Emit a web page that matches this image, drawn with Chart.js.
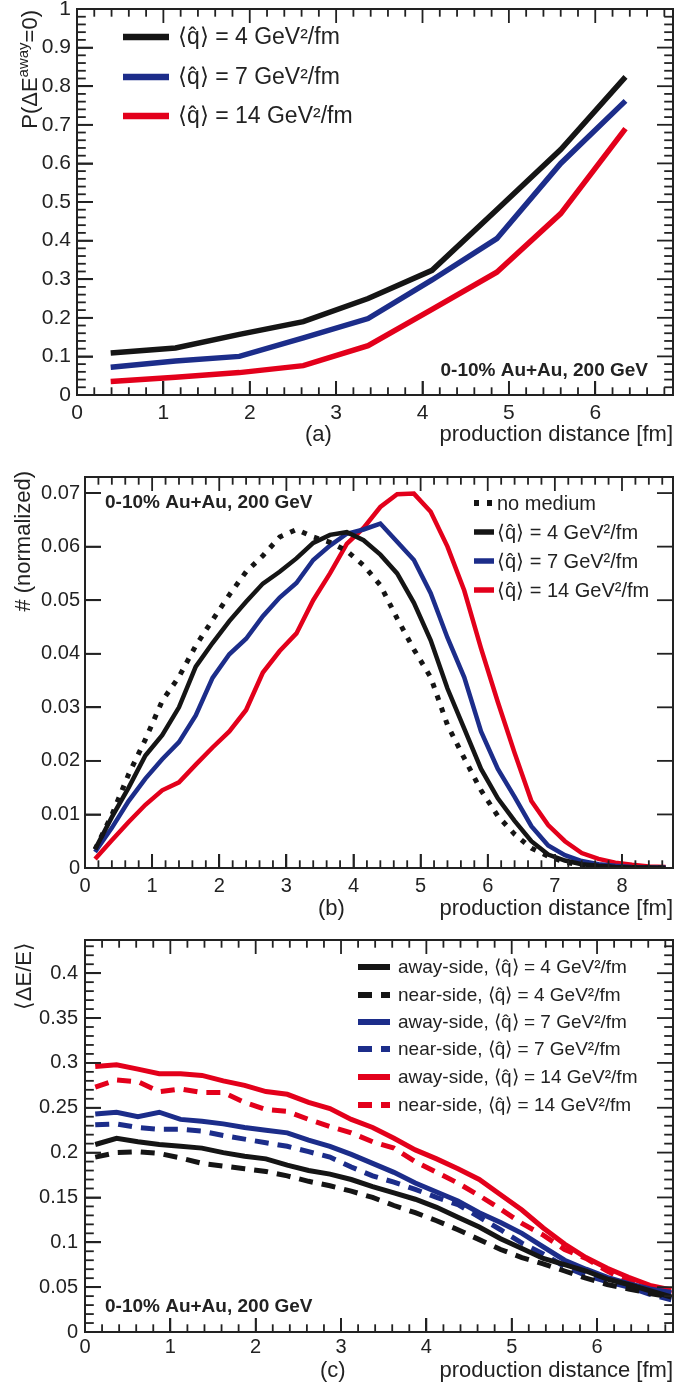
<!DOCTYPE html>
<html>
<head>
<meta charset="utf-8">
<script src="https://cdn.jsdelivr.net/npm/chart.js@4.4.0/dist/chart.umd.min.js"></script>
<style>
  body { margin: 0; background: #fff; width: 676px; height: 1389px; position: relative; overflow: hidden; }
  canvas { position: absolute; left: 0; }
</style>
</head>
<body>
<canvas id="chartA" width="676" height="463" style="top:0px"></canvas>
<canvas id="chartB" width="676" height="463" style="top:463px"></canvas>
<canvas id="chartC" width="676" height="463" style="top:926px"></canvas>
<script>
// ---- data ----
// (a) probability of no energy loss vs production distance
const probX = [0.39, 1.14, 1.88, 2.62, 3.37, 4.11, 4.86, 5.6, 6.35];
const probQ4 = [0.109, 0.122, 0.157, 0.19, 0.25, 0.323, 0.48, 0.636, 0.824];
const probQ7 = [0.072, 0.088, 0.1, 0.148, 0.198, 0.298, 0.405, 0.6, 0.762];
const probQ14 = [0.035, 0.046, 0.058, 0.076, 0.128, 0.222, 0.318, 0.47, 0.69];

// (b) production distance distributions
const distX = [0.15, 0.4, 0.65, 0.9, 1.15, 1.4, 1.65, 1.9, 2.15, 2.4, 2.65, 2.9, 3.15, 3.4, 3.65, 3.9, 4.15, 4.4,
  4.65, 4.9, 5.15, 5.4, 5.65, 5.9, 6.15, 6.4, 6.65, 6.9, 7.15, 7.4, 7.65, 7.9, 8.15, 8.4, 8.65];
const distNoMedium = [0.0035, 0.0099, 0.0175, 0.024, 0.0312, 0.0357, 0.0415, 0.0463, 0.051, 0.0553, 0.0583, 0.0618,
  0.0632, 0.0618, 0.0608, 0.0592, 0.0565, 0.0528, 0.0466, 0.0408, 0.0356, 0.0267, 0.0205, 0.0145, 0.0097, 0.0063,
  0.0037, 0.0022, 0.0011, 0.0005, 0.0002, 0.0001, 0.0001, 0, 0];
const distQ4 = [0.0035, 0.0095, 0.015, 0.021, 0.0248, 0.030, 0.0376, 0.042, 0.0461, 0.0497, 0.0531, 0.0553, 0.0578,
  0.0607, 0.0622, 0.0627, 0.0612, 0.0585, 0.055, 0.0495, 0.0425, 0.0335, 0.026, 0.0185, 0.013, 0.0088, 0.005, 0.0025,
  0.0014, 0.0007, 0.0004, 0.0002, 0.0001, 0.0001, 0];
const distQ7 = [0.003, 0.0075, 0.0125, 0.0167, 0.0203, 0.0235, 0.0285, 0.0355, 0.0399, 0.0428, 0.047, 0.0505, 0.0532,
  0.0575, 0.0602, 0.0624, 0.0632, 0.0643, 0.0609, 0.0575, 0.0513, 0.043, 0.0356, 0.0255, 0.0185, 0.0133, 0.0078,
  0.0042, 0.0024, 0.0013, 0.0007, 0.0004, 0.0002, 0.0001, 0.0001];
const distQ14 = [0.0017, 0.0052, 0.0086, 0.0118, 0.0145, 0.016, 0.0193, 0.0225, 0.0255, 0.0295, 0.0365, 0.0405,
  0.0438, 0.05, 0.055, 0.0605, 0.0635, 0.0674, 0.0698, 0.0699, 0.0665, 0.060, 0.0518, 0.041, 0.031, 0.0215, 0.0125,
  0.008, 0.005, 0.0028, 0.0017, 0.001, 0.0006, 0.0003, 0.0002];

// (c) mean fractional energy loss
const lossX = [0.12, 0.37, 0.62, 0.87, 1.12, 1.37, 1.62, 1.87, 2.12, 2.37, 2.62, 2.87, 3.12, 3.37, 3.62, 3.87,
  4.12, 4.37, 4.62, 4.87, 5.12, 5.37, 5.62, 5.87, 6.12, 6.37, 6.62, 6.87];
const awayQ4 = [0.209, 0.216, 0.212, 0.209, 0.207, 0.205, 0.2, 0.196, 0.193, 0.186, 0.18, 0.176, 0.17, 0.162, 0.155,
  0.148, 0.139, 0.128, 0.117, 0.104, 0.093, 0.082, 0.075, 0.068, 0.059, 0.053, 0.046, 0.039];
const nearQ4 = [0.195, 0.2, 0.201, 0.199, 0.194, 0.188, 0.185, 0.182, 0.179, 0.174, 0.168, 0.163, 0.157, 0.15, 0.141,
  0.133, 0.124, 0.114, 0.103, 0.092, 0.083, 0.076, 0.068, 0.06, 0.053, 0.048, 0.043, 0.039];
const awayQ7 = [0.243, 0.245, 0.24, 0.245, 0.237, 0.235, 0.232, 0.228, 0.225, 0.222, 0.214, 0.207, 0.198, 0.188, 0.178,
  0.166, 0.156, 0.146, 0.133, 0.122, 0.11, 0.095, 0.08, 0.07, 0.061, 0.054, 0.048, 0.044];
const nearQ7 = [0.231, 0.232, 0.228, 0.226, 0.226, 0.224, 0.219, 0.215, 0.211, 0.207, 0.201, 0.195, 0.184, 0.174, 0.167,
  0.159, 0.15, 0.142, 0.128, 0.114, 0.099, 0.087, 0.073, 0.063, 0.056, 0.05, 0.042, 0.036];
const awayQ14 = [0.296, 0.298, 0.293, 0.288, 0.288, 0.286, 0.28, 0.275, 0.268, 0.265, 0.256, 0.249, 0.237, 0.228, 0.216,
  0.203, 0.193, 0.182, 0.17, 0.153, 0.136, 0.116, 0.098, 0.083, 0.071, 0.061, 0.052, 0.047];
const nearQ14 = [0.273, 0.281, 0.279, 0.268, 0.271, 0.267, 0.267, 0.256, 0.248, 0.246, 0.237, 0.229, 0.222, 0.212, 0.205,
  0.19, 0.178, 0.166, 0.152, 0.137, 0.121, 0.108, 0.092, 0.082, 0.068, 0.056, 0.048, 0.043];

const BLACK = "#151515";
const BLUE = "#1c2d8a";
const RED = "#e3001b";
const INK = "#222";
const FONT = '"Liberation Sans", Arial, sans-serif';

function pts(xs, ys) {
  return xs.map((x, i) => ({ x: x, y: ys[i] }));
}

function fmt(v) {
  return String(+v.toFixed(3));
}

// ROOT-like frame; ticks on the inside of all four sides
function drawFrame(chart, o) {
  const ctx = chart.ctx, a = chart.chartArea;
  const sx = chart.scales.x, sy = chart.scales.y;
  ctx.save();
  ctx.setLineDash([]);
  ctx.strokeStyle = INK;
  ctx.fillStyle = INK;
  ctx.lineWidth = 2;
  ctx.strokeRect(a.left, a.top, a.right - a.left, a.bottom - a.top);
  try {
    const nx = Math.floor(o.xMax / o.xMinor + 1e-6);
    for (let i = 1; i <= nx; i++) {
      const v = i * o.xMinor;
      if (v > o.xMax - 1e-6) break;
      const px = sx.getPixelForValue(v);
      const r = v / o.xMajor;
      const len = Math.abs(r - Math.round(r)) < 1e-6 ? o.xLen : o.xLen * 0.55;
      ctx.fillRect(px - 0.9, a.bottom - len, 1.8, len);
      ctx.fillRect(px - 0.9, a.top, 1.8, len);
    }
    const ny = Math.floor(o.yMax / o.yMinor + 1e-6);
    for (let i = 1; i <= ny; i++) {
      const v = i * o.yMinor;
      if (v > o.yMax - 1e-6) break;
      const py = sy.getPixelForValue(v);
      const r = v / o.yMajor;
      const len = Math.abs(r - Math.round(r)) < 1e-6 ? o.yLen : o.yLen * 0.55;
      ctx.fillRect(a.left, py - 0.9, len, 1.8);
      ctx.fillRect(a.right - len, py - 0.9, len, 1.8);
    }
  } catch (e) {
    console.error(e);
  }
  ctx.restore();
}

function text(ctx, s, x, y, size, align, bold) {
  ctx.font = (bold ? "bold " : "") + size + "px " + FONT;
  ctx.textAlign = align || "left";
  ctx.fillStyle = INK;
  ctx.fillText(s, x, y);
}

// rotated y title: parts are [text, size, shift], ending at yTop
function yTitle(ctx, parts, x, yTop) {
  ctx.save();
  ctx.translate(x, yTop);
  ctx.rotate(-Math.PI / 2);
  let w = 0;
  parts.forEach(p => { ctx.font = p[1] + "px " + FONT; w += ctx.measureText(p[0]).width; });
  let u = -w;
  ctx.fillStyle = INK;
  ctx.textAlign = "left";
  ctx.textBaseline = "alphabetic";
  parts.forEach(p => {
    ctx.font = p[1] + "px " + FONT;
    ctx.fillText(p[0], u, p[2] || 0);
    u += ctx.measureText(p[0]).width;
  });
  ctx.restore();
}

function legendBox(chart, rows, x0, x1, tx, size) {
  const ctx = chart.ctx;
  ctx.save();
  rows.forEach(r => {
    const ds = chart.data.datasets[r[0]];
    ctx.strokeStyle = ds.borderColor;
    ctx.lineWidth = ds.borderWidth + 1;
    ctx.setLineDash(ds.borderDash || []);
    ctx.lineCap = "butt";
    ctx.beginPath();
    ctx.moveTo(x0, r[1]);
    ctx.lineTo(x1, r[1]);
    ctx.stroke();
    ctx.setLineDash([]);
    ctx.textBaseline = "middle";
    text(ctx, ds.label, tx, r[1] + 1, size);
  });
  ctx.restore();
}

function series(label, xs, ys, color, width, dash) {
  return {
    label: label,
    data: pts(xs, ys),
    borderColor: color,
    backgroundColor: color,
    borderWidth: width,
    borderDash: dash || [],
    borderCapStyle: "butt",
    pointRadius: 0,
    tension: 0,
    fill: false
  };
}

// major ticks also come from Chart.js itself: inward tick marks (negative tickLength)
function makeScales(box, xMax, yMax, yStep, fontSize, xPad, yPad) {
  return {
    x: {
      type: "linear", min: 0, max: xMax,
      grid: { display: true, drawOnChartArea: false, drawTicks: true, tickLength: -14, color: INK, lineWidth: 1.8 },
      border: { display: false },
      ticks: {
        stepSize: 1, includeBounds: false, padding: xPad + 14, maxRotation: 0,
        color: INK, font: { family: FONT, size: fontSize }, callback: fmt
      },
      afterFit: s => { s.height = box.h - box.bottom; s.paddingLeft = 0; s.paddingRight = 0; }
    },
    y: {
      type: "linear", min: 0, max: yMax,
      grid: { display: true, drawOnChartArea: false, drawTicks: true, tickLength: -16, color: INK, lineWidth: 1.8 },
      border: { display: false },
      ticks: {
        stepSize: yStep, includeBounds: false, padding: yPad + 16,
        color: INK, font: { family: FONT, size: fontSize }, callback: fmt
      },
      afterFit: s => { s.width = box.left; s.paddingTop = 0; s.paddingBottom = 0; }
    }
  };
}

function baseOptions(box, sc) {
  return {
    responsive: false,
    animation: false,
    layout: { padding: { top: box.top, right: box.w - box.right, left: 0, bottom: 0 } },
    scales: sc,
    plugins: { legend: { display: false }, tooltip: { enabled: false } }
  };
}

const Q4 = "\u27E8q\u0302\u27E9 = 4 GeV\u00B2/fm";
const Q7 = "\u27E8q\u0302\u27E9 = 7 GeV\u00B2/fm";
const Q14 = "\u27E8q\u0302\u27E9 = 14 GeV\u00B2/fm";

// ---- panel (a) ----
const boxA = { w: 676, h: 463, left: 77, right: 673, top: 9, bottom: 395 };
new Chart(document.getElementById("chartA"), {
  type: "line",
  data: {
    datasets: [
      series(Q4, probX, probQ4, BLACK, 5.5),
      series(Q7, probX, probQ7, BLUE, 5.5),
      series(Q14, probX, probQ14, RED, 5.5)
    ]
  },
  options: baseOptions(boxA, makeScales(boxA, 6.9, 1.0, 0.1, 21, 6, 6)),
  plugins: [{
    id: "textA",
    afterDraw(chart) {
      const ctx = chart.ctx;
      legendBox(chart, [[0, 37], [1, 77], [2, 116]], 123, 169, 178, 23);
      ctx.textBaseline = "alphabetic";
      text(ctx, "0-10% Au+Au, 200 GeV", 648, 376, 19, "right", true);
      text(ctx, "production distance [fm]", 673, 441, 22, "right");
      text(ctx, "(a)", 305, 441, 22, "left");
      yTitle(ctx, [["P(\u0394E", 22], ["away", 15, -9], ["=0)", 22]], 37, 10);
      drawFrame(chart, { xMax: 6.9, xMinor: 0.2, xMajor: 1, xLen: 14, yMax: 1.0, yMinor: 0.02, yMajor: 0.1, yLen: 16 });
    }
  }]
});

// ---- panel (b) ----
const boxB = { w: 676, h: 463, left: 85, right: 673, top: 14, bottom: 405 };
new Chart(document.getElementById("chartB"), {
  type: "line",
  data: {
    datasets: [
      series("no medium", distX, distNoMedium, BLACK, 5, [5, 8]),
      series(Q4, distX, distQ4, BLACK, 4.5),
      series(Q7, distX, distQ7, BLUE, 4.5),
      series(Q14, distX, distQ14, RED, 4.5)
    ]
  },
  options: baseOptions(boxB, makeScales(boxB, 8.76, 0.073, 0.01, 20, 6, 5)),
  plugins: [{
    id: "textB",
    afterDraw(chart) {
      const ctx = chart.ctx;
      legendBox(chart, [[0, 40], [1, 69], [2, 98], [3, 127]], 474, 494, 497, 20);
      ctx.textBaseline = "middle";
      text(ctx, "0-10% Au+Au, 200 GeV", 105, 40, 19, "left", true);
      ctx.textBaseline = "alphabetic";
      text(ctx, "production distance [fm]", 673, 452, 22, "right");
      text(ctx, "(b)", 318, 452, 22, "left");
      yTitle(ctx, [["# (normalized)", 22]], 30, 8);
      drawFrame(chart, { xMax: 8.76, xMinor: 0.2, xMajor: 1, xLen: 14, yMax: 0.073, yMinor: 0.01, yMajor: 0.01, yLen: 16 });
    }
  }]
});

// ---- panel (c) ----
const boxC = { w: 676, h: 463, left: 85, right: 673, top: 14, bottom: 406 };
new Chart(document.getElementById("chartC"), {
  type: "line",
  data: {
    datasets: [
      series("away-side, " + Q4, lossX, awayQ4, BLACK, 5),
      series("near-side, " + Q4, lossX, nearQ4, BLACK, 5, [14, 9]),
      series("away-side, " + Q7, lossX, awayQ7, BLUE, 5),
      series("near-side, " + Q7, lossX, nearQ7, BLUE, 5, [14, 9]),
      series("away-side, " + Q14, lossX, awayQ14, RED, 5),
      series("near-side, " + Q14, lossX, nearQ14, RED, 5, [14, 9])
    ]
  },
  options: baseOptions(boxC, makeScales(boxC, 6.89, 0.437, 0.05, 20, 3, 7)),
  plugins: [{
    id: "textC",
    afterDraw(chart) {
      const ctx = chart.ctx;
      legendBox(chart, [[0, 41], [1, 69], [2, 96], [3, 123], [4, 151], [5, 179]], 358, 390, 398, 19);
      ctx.textBaseline = "middle";
      text(ctx, "0-10% Au+Au, 200 GeV", 105, 381, 19, "left", true);
      ctx.textBaseline = "alphabetic";
      text(ctx, "production distance [fm]", 673, 451, 22, "right");
      text(ctx, "(c)", 320, 451, 22, "left");
      yTitle(ctx, [["\u27E8\u0394E/E\u27E9", 22]], 31, 16);
      drawFrame(chart, { xMax: 6.89, xMinor: 0.2, xMajor: 1, xLen: 14, yMax: 0.437, yMinor: 0.01, yMajor: 0.05, yLen: 16 });
    }
  }]
});
</script>
</body>
</html>
